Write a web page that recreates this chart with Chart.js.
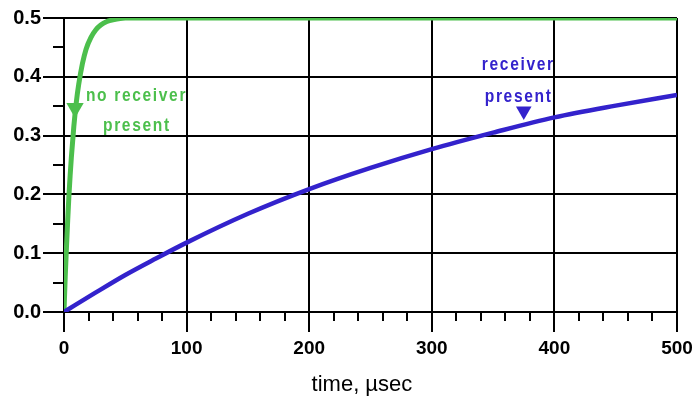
<!DOCTYPE html>
<html><head><meta charset="utf-8">
<script src="https://cdn.jsdelivr.net/npm/chart.js@4"></script>
<style>html,body{margin:0;padding:0;background:#fff}canvas{display:block}</style>
</head><body>
<canvas id="c" width="693" height="401"></canvas>
<script>
// ---- data ----
const noReceiverT = [0, 1, 2, 3, 4, 5, 6, 8, 10, 12, 15, 18, 22, 26, 30, 35, 40, 50, 100, 200, 300, 400, 500];
const noReceiverV = [0, 0.06, 0.11, 0.155, 0.197, 0.232, 0.263, 0.315, 0.356, 0.387, 0.422, 0.447, 0.467, 0.48, 0.488, 0.494, 0.497, 0.5, 0.5, 0.5, 0.5, 0.5, 0.5];
const receiverT = [0, 25, 50, 75, 100, 150, 200, 250, 300, 350, 400, 450, 500];
const receiverV = [0, 0.032, 0.063, 0.091, 0.118, 0.167, 0.209, 0.245, 0.277, 0.305, 0.331, 0.351, 0.369];
const xTicks = [0, 100, 200, 300, 400, 500];
const yTicks = [0.0, 0.1, 0.2, 0.3, 0.4, 0.5];
const xTitle = 'time, µsec';

const GREEN = '#4cbf4c';
const BLUE = '#3322cc';

// annotations (data coordinates)
const notes = [
  {text: 'no receiver', x: 17.9, y: 0.3675, color: GREEN},
  {text: 'present', x: 31.8, y: 0.316, color: GREEN},
  {text: 'receiver', x: 340.8, y: 0.420, color: BLUE},
  {text: 'present', x: 343.2, y: 0.366, color: BLUE}
];
const markers = [
  {x: 9.0, y: 0.347, color: GREEN, r: 10},
  {x: 375.0, y: 0.342, color: BLUE, r: 9}
];

const zip = (t, v) => t.map((tt, i) => ({x: tt, y: v[i]}));
const FONT = "'Liberation Sans', Arial, sans-serif";

const extras = {
  id: 'extras',
  afterDraw(chart) {
    const {ctx, scales: {x, y}} = chart;
    ctx.save();
    // minor ticks
    ctx.strokeStyle = '#000';
    ctx.lineWidth = 2;
    ctx.beginPath();
    for (let v = 20; v < 500; v += 20) {
      if (v % 100 === 0) continue;
      const px = Math.round(x.getPixelForValue(v));
      ctx.moveTo(px, y.bottom);
      ctx.lineTo(px, y.bottom + 9);
    }
    for (let k = 0; k < 5; k++) {
      const v = 0.05 + k * 0.1;
      const py = Math.round(y.getPixelForValue(v));
      ctx.moveTo(x.left - 11, py);
      ctx.lineTo(x.left, py);
    }
    ctx.stroke();
    // annotations (bold, horizontally condensed)
    ctx.font = "bold 19px " + FONT;
    ctx.letterSpacing = '2px';
    ctx.textAlign = 'left';
    ctx.textBaseline = 'middle';
    notes.forEach(n => {
      ctx.save();
      ctx.translate(x.getPixelForValue(n.x), y.getPixelForValue(n.y));
      ctx.scale(0.82, 1);
      ctx.fillStyle = n.color;
      ctx.fillText(n.text, 0, 0);
      ctx.restore();
    });
    ctx.letterSpacing = '0px';
    // axis title
    ctx.fillStyle = '#000';
    ctx.font = "22px " + FONT;
    ctx.textAlign = 'center';
    ctx.fillText(xTitle, x.getPixelForValue(243), 385);
    ctx.restore();
  }
};

new Chart(document.getElementById('c'), {
  type: 'line',
  data: {
    datasets: [
      {data: zip(receiverT, receiverV), borderColor: BLUE, borderWidth: 4.5, pointRadius: 0, cubicInterpolationMode: 'monotone', fill: false},
      {data: zip(noReceiverT, noReceiverV), borderColor: GREEN, borderWidth: 5, pointRadius: 0, cubicInterpolationMode: 'monotone', fill: false},
      ...markers.map(m => ({
        type: 'scatter', data: [{x: m.x, y: m.y}], pointStyle: 'triangle', rotation: 180,
        pointRadius: m.r, backgroundColor: m.color, borderWidth: 0, showLine: false
      }))
    ]
  },
  options: {
    responsive: false,
    animation: false,
    devicePixelRatio: 1,
    layout: {padding: {left: 0, right: 16, top: 18, bottom: 0}},
    plugins: {legend: {display: false}, tooltip: {enabled: false}},
    scales: {
      x: {
        type: 'linear', min: 0, max: 500,
        afterBuildTicks: s => { s.ticks = xTicks.map(v => ({value: v})); },
        afterFit: s => { s.height = 89; s.paddingLeft = 0; s.paddingRight = 0; },
        grid: {color: '#000', lineWidth: 2, tickLength: 20, tickColor: '#000'},
        border: {display: true, color: '#000', width: 2},
        ticks: {color: '#000', font: {family: FONT, size: 19, weight: 'bold'}, padding: 5, maxRotation: 0, autoSkip: false}
      },
      y: {
        type: 'linear', min: 0, max: 0.5,
        afterBuildTicks: s => { s.ticks = yTicks.map(v => ({value: v})); },
        afterFit: s => { s.width = 64; s.paddingTop = 0; s.paddingBottom = 0; },
        grid: {color: '#000', lineWidth: 2, tickLength: 21, tickColor: '#000'},
        border: {display: true, color: '#000', width: 2},
        ticks: {color: '#000', font: {family: FONT, size: 20, weight: 'bold'}, padding: 2, callback: v => v.toFixed(1)}
      }
    }
  },
  plugins: [extras]
});
</script>
</body></html>
